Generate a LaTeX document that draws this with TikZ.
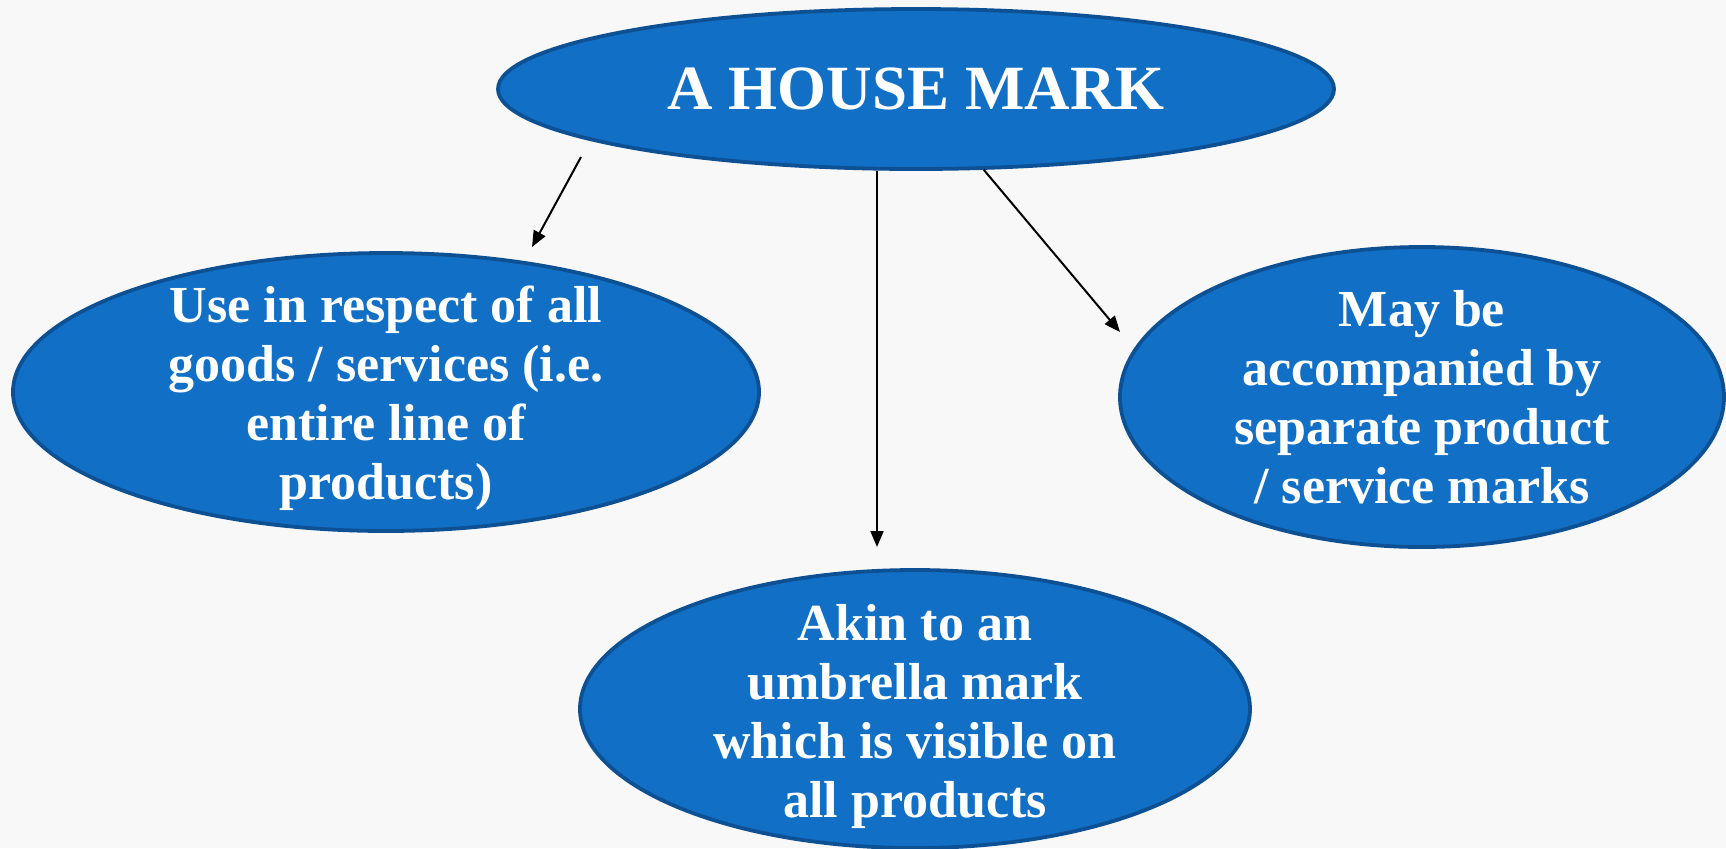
\documentclass[tikz,border=0pt]{standalone}
\usepackage{fontspec}
\setmainfont{Liberation Serif}
\usetikzlibrary{shapes.geometric,arrows.meta}
\definecolor{bubblue}{RGB}{17,112,198}
\definecolor{bubedge}{RGB}{13,80,148}
\definecolor{paper}{RGB}{248,248,248}
\tikzset{
  bubble/.style={ellipse,draw=bubedge,line width=1.9pt,fill=bubblue,inner sep=0pt},
  bubtext/.style={text=white,align=center,font=\bfseries\fontsize{26}{29.5}\selectfont},
  arr/.style={->,line width=1pt,black}
}
\begin{document}
\begin{tikzpicture}[>={Triangle[length=8pt,width=6.5pt]},x=0.5pt,y=-0.5pt]
		\fill[paper] (0,0) rectangle (1726,848);
		\useasboundingbox (0,0) rectangle (1726,848);
		% ellipses
		\node[bubble,minimum width=418pt,minimum height=80pt] (top) at (916,89) {};
		\node[bubble,minimum width=373pt,minimum height=139pt] (left) at (386,392) {};
		\node[bubble,minimum width=302pt,minimum height=150pt] (right) at (1422,397) {};
		\node[bubble,minimum width=335pt,minimum height=139pt] (bottom) at (915,709) {};
		% texts
		\node[bubtext,font=\bfseries\fontsize{31.5}{34}\selectfont] (toptxt) at (top) {A HOUSE MARK};
		\node[bubtext,yshift=-3pt] (lefttxt) at (left) {Use in respect of all\\goods / services (i.e.\\entire line of\\products)};
		\node[bubtext] (righttxt) at (right) {May be\\accompanied by\\separate product\\/ service marks};
		\node[bubtext,yshift=-3.5pt] (bottomtxt) at (bottom) {Akin to an\\umbrella mark\\which is visible on\\all products};
		% arrows
		\coordinate (lstart) at (581,157);
		\coordinate (ltip) at (532,247);
		\coordinate (mtip) at (877,547);
		\coordinate (rtip) at (1120,332);
		\draw[arr] (lstart) -- (ltip);
		\draw[arr] (mtip |- top.south) -- (mtip);
		\draw[arr] (top.310.3) -- (rtip);
\end{tikzpicture}
\end{document}
